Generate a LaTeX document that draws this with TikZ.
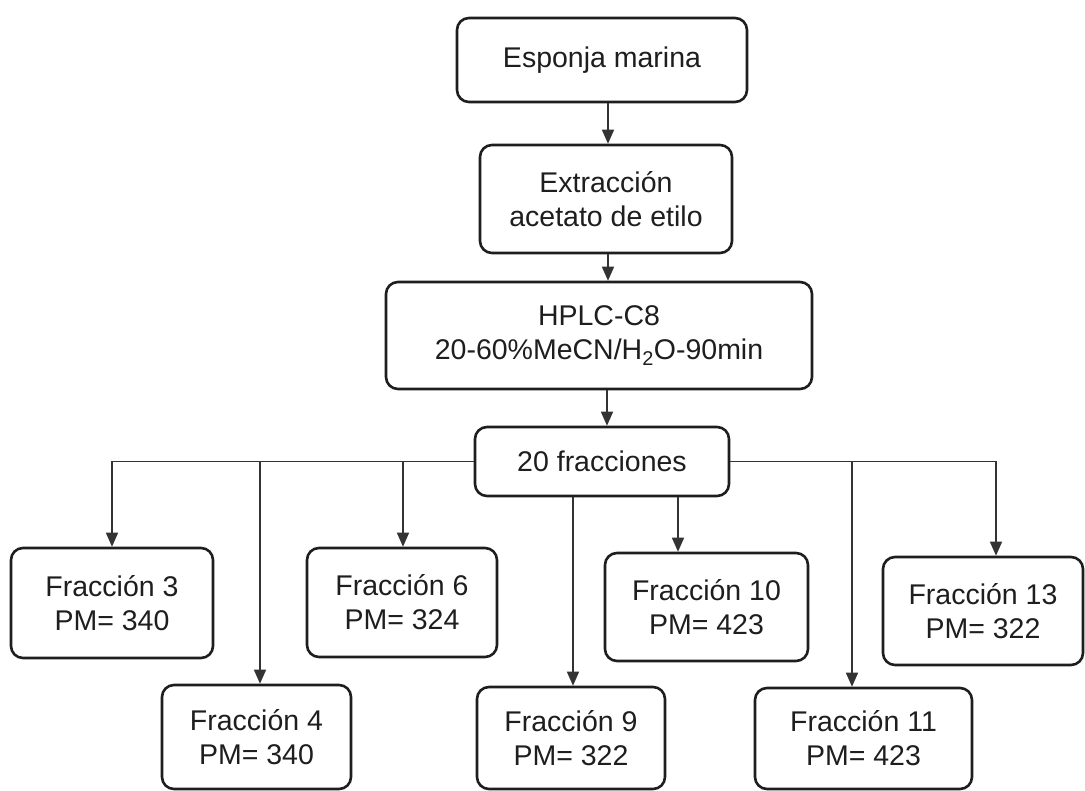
\documentclass[tikz,border=0pt]{standalone}
\usepackage{fontspec}
\setmainfont{Liberation Sans}
\usetikzlibrary{arrows.meta}
\definecolor{ink}{HTML}{1E1E1E}
\definecolor{lineink}{HTML}{333333}
\begin{document}
\begin{tikzpicture}[x=1pt,y=-1pt,
  box/.style={draw=ink, line width=2.6pt, rounded corners=12pt, align=center,
    text=ink, inner sep=0pt, font=\fontsize{28.5}{34}\selectfont},
  conn/.style={draw=lineink, line width=1.5pt},
  arr/.style={conn, -{Triangle[length=14pt,width=12pt]}}]
\useasboundingbox[fill=white] (0,0) rectangle (1085,791);
% main chain
\node[box, minimum width=290pt, minimum height=84pt] (a) at (602,60) {Esponja marina};
\node[box, minimum width=252pt, minimum height=108pt] (b) at (606,199) {Extracción\\acetato de etilo};
\node[box, minimum width=426pt, minimum height=107pt] (c) at (599,335.5) {HPLC-C8\\20-60\%MeCN/H\textsubscript{2}O-90min};
\node[box, minimum width=254pt, minimum height=69pt] (d) at (602,461.5) {20 fracciones};
% fractions
\node[box, minimum width=202pt, minimum height=110pt] (f3) at (112,603) {Fracción 3\\PM= 340};
\node[box, minimum width=189pt, minimum height=104pt] (f4) at (256.5,737) {Fracción 4\\PM= 340};
\node[box, minimum width=190pt, minimum height=109pt] (f6) at (402,602.5) {Fracción 6\\PM= 324};
\node[box, minimum width=188pt, minimum height=102pt] (f9) at (571,738) {Fracción 9\\PM= 322};
\node[box, minimum width=203pt, minimum height=108pt] (f10) at (706.5,607) {Fracción 10\\PM= 423};
\node[box, minimum width=217pt, minimum height=101pt] (f11) at (863.5,738.5) {Fracción 11\\PM= 423};
\node[box, minimum width=200pt, minimum height=108pt] (f13) at (983,611) {Fracción 13\\PM= 322};
% connector x positions
\coordinate (xm) at (608,0);
\coordinate (xc) at (607,0);
\coordinate (x4) at (260,0);
\coordinate (x6) at (403,0);
\coordinate (x9) at (573,0);
\coordinate (x10) at (678,0);
\coordinate (x11) at (852,0);
\coordinate (x13) at (996,0);
% main arrows
\draw[arr] (xm |- a.south) -- (xm |- b.north);
\draw[arr] (xm |- b.south) -- (xm |- c.north);
\draw[arr] (xc |- c.south) -- (xc |- d.north);
% left branch
\draw[arr] (d.west) -| (f3.north);
\draw[arr] (x4 |- d.west) -- (x4 |- f4.north);
\draw[arr] (x6 |- d.west) -- (x6 |- f6.north);
% from bottom
\draw[arr] (x9 |- d.south) -- (x9 |- f9.north);
\draw[arr] (x10 |- d.south) -- (x10 |- f10.north);
% right branch
\draw[arr] (d.east) -| (x13 |- f13.north);
\draw[arr] (x11 |- d.east) -- (x11 |- f11.north);
\end{tikzpicture}
\end{document}
